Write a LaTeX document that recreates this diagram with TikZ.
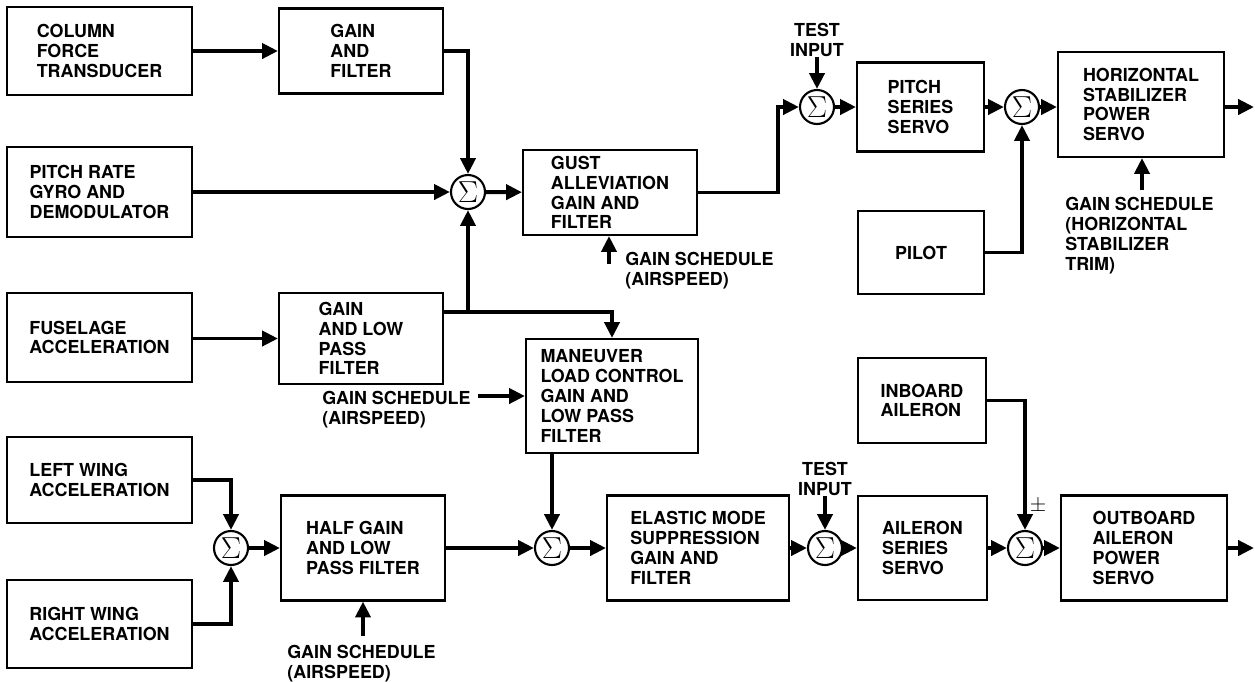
\documentclass[tikz,border=0pt]{standalone}
\usepackage{fontspec}
\setmainfont{TeX Gyre Heros}
\usepackage{tikz}
\usetikzlibrary{arrows.meta,positioning}

\begin{document}
\begin{tikzpicture}[x=0.02cm, y=-0.02cm,
                    blkbox/.style={draw, line width=1.2pt, align=left, inner sep=2pt,
                                   font=\fontsize{10.2}{11.3}\selectfont\bfseries},
                    sumnode/.style={draw, circle, line width=1.2pt, minimum size=0.68cm,
                                    inner sep=0pt, font=\LARGE},
                    lbl/.style={align=left, inner sep=0pt,
                                font=\fontsize{10.2}{11.3}\selectfont\bfseries},
                    arr/.style={-{Triangle[length=9pt,width=8.5pt]}, line width=2.2pt},
                    line/.style={line width=2.2pt}
                ]
    \useasboundingbox (0,0) rectangle (1255,681);

    % pitch channel
    \node[blkbox, minimum width=3.7cm, minimum height=1.76cm] (col) at (99.5,51) {COLUMN\\FORCE\\TRANSDUCER};
    \node[blkbox, minimum width=3.28cm, minimum height=1.7cm] (gf) at (361,51) {GAIN\\AND\\FILTER};
    \node[blkbox, minimum width=3.7cm, minimum height=1.8cm] (gyro) at (99.5,192) {PITCH RATE\\GYRO AND\\DEMODULATOR};
    \node[blkbox, minimum width=3.7cm, minimum height=1.78cm] (fus) at (99.5,337.5) {FUSELAGE\\ACCELERATION};
    \node[blkbox, minimum width=3.28cm, minimum height=1.82cm] (glp) at (361,338.5) {GAIN\\AND LOW\\PASS\\FILTER};
    \node[sumnode] (s1) at (468,192) {$\Sigma$};
    \node[blkbox, minimum width=3.48cm, minimum height=1.7cm] (gust) at (610,192.5) {GUST\\ALLEVIATION\\GAIN AND\\FILTER};
    \node[sumnode] (s2) at (817,107) {$\Sigma$};
    \node[blkbox, minimum width=2.54cm, minimum height=1.78cm] (pss) at (920.5,107) {PITCH\\SERIES\\SERVO};
    \node[sumnode] (s3) at (1022,107) {$\Sigma$};
    \node[blkbox, minimum width=3.32cm, minimum height=2.1cm] (hsps) at (1141,104.5) {HORIZONTAL\\STABILIZER\\POWER\\SERVO};
    \node[blkbox, minimum width=2.52cm, minimum height=1.66cm] (pilot) at (921,252.5) {PILOT};
    \node[blkbox, minimum width=3.44cm, minimum height=2.28cm] (mlc) at (612,396) {MANEUVER\\LOAD CONTROL\\GAIN AND\\LOW PASS\\FILTER};

    % wing channel
    \node[blkbox, minimum width=3.7cm, minimum height=1.72cm] (lw) at (99.5,480) {LEFT WING\\ACCELERATION};
    \node[blkbox, minimum width=3.7cm, minimum height=1.76cm] (rw) at (99.5,624) {RIGHT WING\\ACCELERATION};
    \node[sumnode] (s4) at (231,548) {$\Sigma$};
    \node[blkbox, minimum width=3.28cm, minimum height=2.1cm] (hg) at (363,548) {HALF GAIN\\AND LOW\\PASS FILTER};
    \node[sumnode] (s5) at (552,548) {$\Sigma$};
    \node[blkbox, minimum width=3.64cm, minimum height=2.1cm] (ems) at (698,548) {ELASTIC MODE\\SUPPRESSION\\GAIN AND\\FILTER};
    \node[sumnode] (s6) at (825,548) {$\Sigma$};
    \node[blkbox, minimum width=2.58cm, minimum height=2.08cm] (ass) at (922.5,548) {AILERON\\SERIES\\SERVO};
    \node[sumnode] (s7) at (1025,548) {$\Sigma$};
    \node[blkbox, minimum width=2.56cm, minimum height=1.7cm] (inb) at (922,400.5) {INBOARD\\AILERON};
    \node[blkbox, minimum width=3.32cm, minimum height=2.1cm] (oaps) at (1144,548) {OUTBOARD\\AILERON\\POWER\\SERVO};

    % labels
    \node[lbl, align=center, anchor=south] (tin1) at (817,57) {TEST\\INPUT};
    \node[lbl, align=center, anchor=south] (tin2) at (825,496) {TEST\\INPUT};
    \node[lbl, anchor=north west] (gs1) at (625,252) {GAIN SCHEDULE\\(AIRSPEED)};
    \node[lbl, anchor=north west] (gs2) at (1065,197) {GAIN SCHEDULE\\(HORIZONTAL\\STABILIZER\\TRIM)};
    \node[lbl, anchor=north west] (gs3) at (322,391) {GAIN SCHEDULE\\(AIRSPEED)};
    \node[lbl, anchor=north west] (gs4) at (287,645) {GAIN SCHEDULE\\(AIRSPEED)};
    \node[inner sep=0pt, font=\large] (pm) at (1038,506) {$\pm$};

    \coordinate (jn) at (468,312);
    \coordinate (gs1a) at (609,264);
    \coordinate (gs2a) at (1142,190);
    \coordinate (gs3a) at (478,396);
    \coordinate (gs4a) at (363,636);
    \coordinate (out1) at (1254,107);
    \coordinate (out2) at (1254,548);

    % pitch connectors
    \draw[arr] (col) -- (gf);
    \draw[arr] (gf.east) -| (s1.north);
    \draw[arr] (gyro) -- (s1);
    \draw[arr] (fus.east |- glp) -- (glp);
    \draw[arr] (glp.east |- jn) -| (mlc.north);
    \draw[arr] (jn) -- (s1.south);
    \draw[arr] (s1) -- (gust);
    \draw[arr] (gust.east) -- ++(80,0) |- (s2.west);
    \draw[arr] (tin1.south) -- (s2.north);
    \draw[arr] (s2) -- (pss);
    \draw[arr] (pss) -- (s3);
    \draw[arr] (s3) -- (hsps.west |- s3);
    \draw[arr] (hsps.east |- out1) -- (out1);
    \draw[arr] (pilot.east) -| (s3.south);
    \draw[arr] (gs1a) -- (gs1a |- gust.south);
    \draw[arr] (gs2a) -- (gs2a |- hsps.south);
    \draw[arr] (gs3a) -- (mlc.west);

    % wing connectors
    \draw[arr] (lw.east) -| (s4.north);
    \draw[arr] (rw.east) -| (s4.south);
    \draw[arr] (s4) -- (hg);
    \draw[arr] (gs4a) -- (gs4a |- hg.south);
    \draw[arr] (hg) -- (s5);
    \draw[arr] (s5 |- mlc.south) -- (s5.north);
    \draw[arr] (s5) -- (ems);
    \draw[arr] (ems) -- (s6);
    \draw[arr] (tin2.south) -- (s6.north);
    \draw[arr] (s6) -- (ass);
    \draw[arr] (ass) -- (s7);
    \draw[arr] (inb.east) -| (s7.north);
    \draw[arr] (s7) -- (oaps);
    \draw[arr] (oaps.east) -- (out2);
\end{tikzpicture}
\end{document}
